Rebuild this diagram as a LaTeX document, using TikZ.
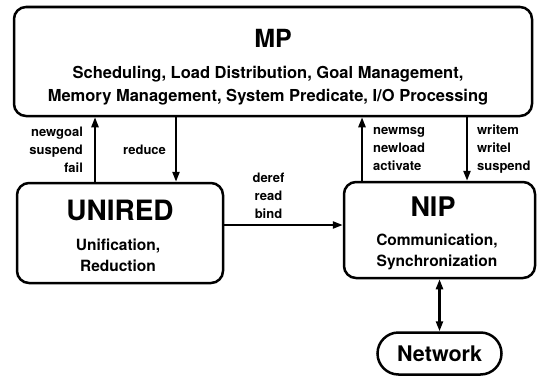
\documentclass[tikz,border=0pt]{standalone}
\usepackage{fontspec}
\setmainfont{TeX Gyre Heros}
\usetikzlibrary{arrows.meta, positioning, calc}

\begin{document}
\begin{tikzpicture}[
    x=1pt, y=1pt,
    box/.style  ={draw, line width=2.5pt, rounded corners=12pt, inner sep=0pt},
    title/.style={font=\bfseries\fontsize{25}{25}\selectfont},
    descr/.style={align=center, font=\bfseries\fontsize{15.5}{20.5}\selectfont},
    lbl/.style  ={inner sep=0pt, font=\bfseries\fontsize{13}{18}\selectfont},
    link/.style ={line width=2.2pt},
    >={Triangle[length=10pt,width=7pt]}
  ]
  \useasboundingbox (0,0) rectangle (538,376);

  % Boxes
  \node[box, minimum width=518pt, minimum height=109pt] (MP)     at (273,314.5) {};
  \node[box, minimum width=206pt, minimum height=100pt] (UNIRED) at (120,143)   {};
  \node[box, minimum width=191pt, minimum height=96pt]  (NIP)    at (439.5,146) {};
  \node[box, rounded corners=21pt, minimum width=124pt, minimum height=42pt,
        font=\bfseries\fontsize{21.5}{21.5}\selectfont, below=52pt of NIP] (NET) {Network};

  % Box contents
  \node[title] (MPtitle) at (273,338) {MP};
  \node[descr, font=\bfseries\fontsize{16.5}{23}\selectfont] (MPdescr) at (268,290.5)
    {Scheduling, Load Distribution, Goal Management,\\
     Memory Management, System Predicate, I/O Processing};
  \node[title, font=\bfseries\fontsize{28}{28}\selectfont] (UNtitle) at (120,166) {UNIRED};
  \node[descr] (UNdescr) at (118,120.5) {Unification,\\Reduction};
  \node[title, font=\bfseries\fontsize{27}{27}\selectfont] (NIPtitle) at (433,169) {NIP};
  \node[descr] (NIPdescr) at (437,124) {Communication,\\Synchronization};

  % UNIRED <-> MP
  \draw[link, ->] ([xshift=-25pt]UNIRED.north) -- ([xshift=-25pt]UNIRED.north |- MP.south)
    node[midway, lbl, left=11pt, align=right] {newgoal\\suspend\\fail};
  \draw[link, ->] ([xshift=56pt]UNIRED.north |- MP.south) -- ([xshift=56pt]UNIRED.north)
    node[midway, lbl, left=9pt] {reduce};

  % NIP <-> MP
  \draw[link, ->] ([xshift=-77.5pt]NIP.north) -- ([xshift=-77.5pt]NIP.north |- MP.south)
    node[midway, lbl, right=10pt, align=left] {newmsg\\newload\\activate};
  \draw[link, ->] ([xshift=27.5pt]NIP.north |- MP.south) -- ([xshift=27.5pt]NIP.north)
    node[midway, lbl, right=9pt, align=left] {writem\\writel\\suspend};

  % UNIRED -> NIP
  \draw[link, ->] ([yshift=8pt]UNIRED.east) -- ([yshift=8pt]UNIRED.east -| NIP.west)
    node[midway, lbl, above=5pt, xshift=-15pt, align=center] {deref\\read\\bind};

  % NIP <-> Network
  \draw[link, <->] (NIP.south) -- (NET.north);
\end{tikzpicture}
\end{document}
